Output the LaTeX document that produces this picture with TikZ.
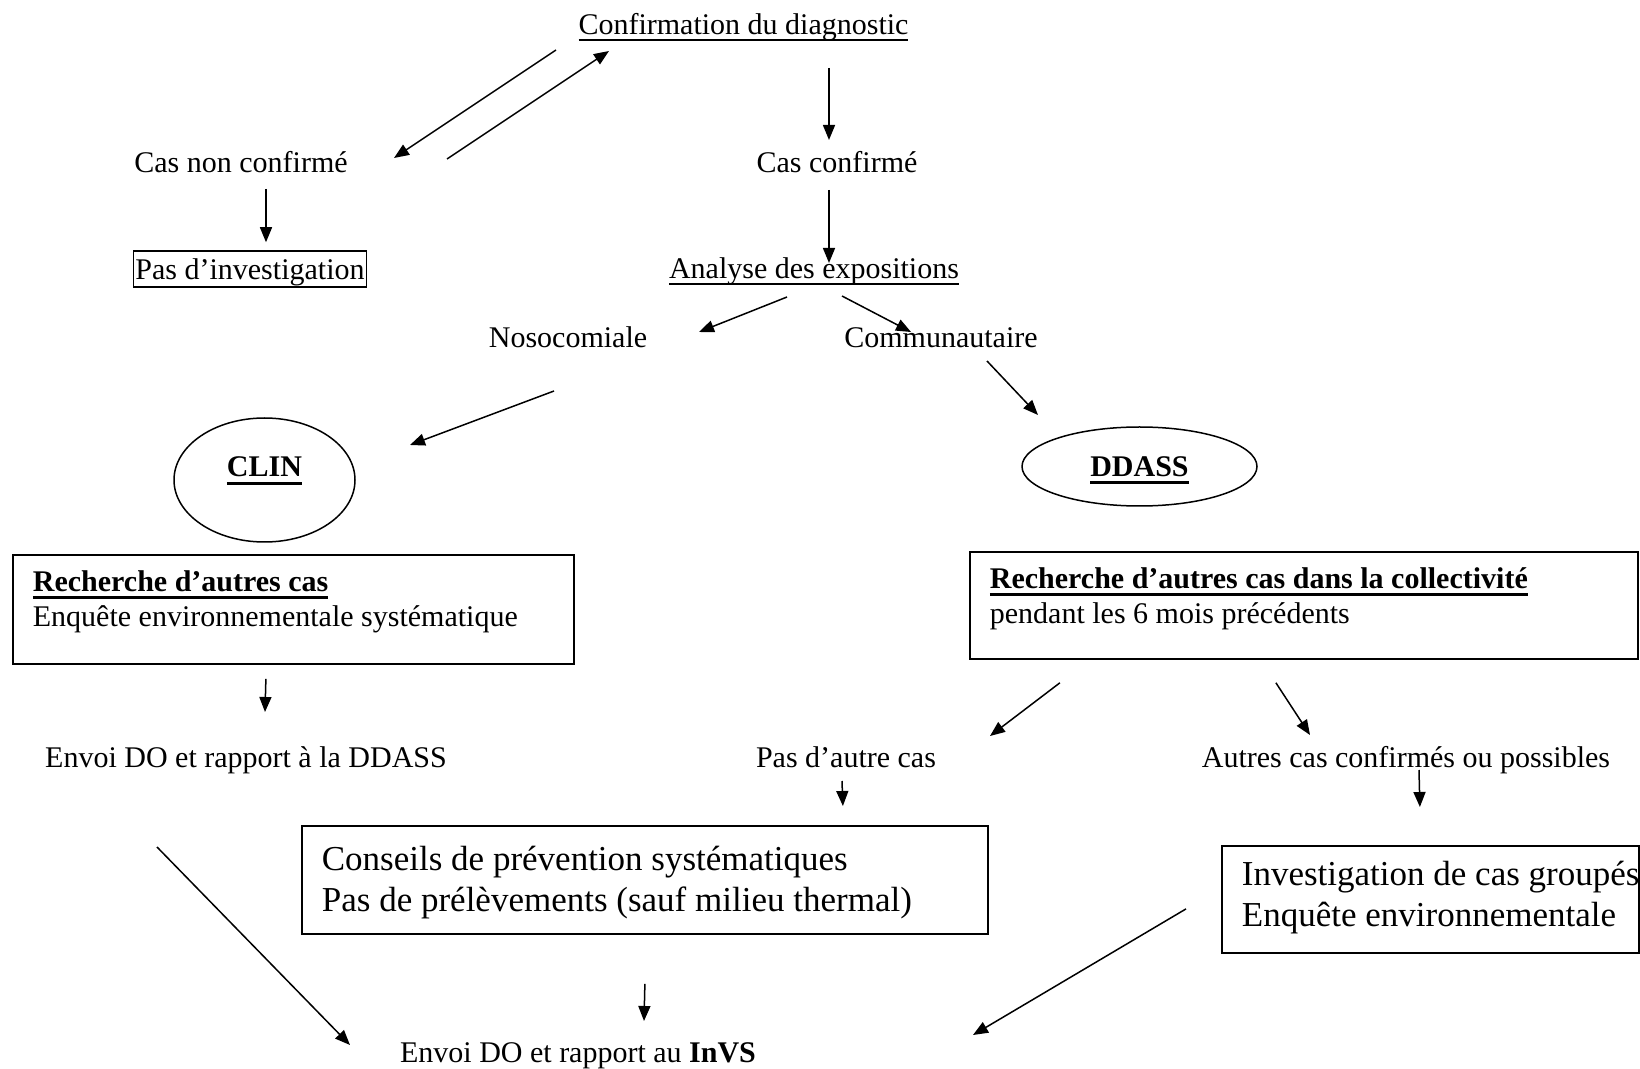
\documentclass[tikz,border=0pt]{standalone}
\usepackage{fontspec}
\setmainfont{Liberation Serif}
\usetikzlibrary{arrows.meta,shapes.geometric}

\newcommand\souligne[1]{\leavevmode\setbox0\hbox{#1}\rlap{\rule[-2.8pt]{\wd0}{0.6pt}}\box0}
\newcommand\soulignegras[1]{\leavevmode\setbox0\hbox{\bfseries #1}\rlap{\rule[-4pt]{\wd0}{1.5pt}}\box0}

\begin{document}
\begin{tikzpicture}[x=0.5pt,y=-0.5pt,
   txt/.style={anchor=base,inner sep=0pt,font=\fontsize{15}{17.5}\selectfont},
   cadre/.style={draw,line width=0.9pt,anchor=north west,inner xsep=10pt,inner ysep=#1,font=\fontsize{15}{17.5}\selectfont},
   cadre/.default=8pt,
   grand/.style={font=\fontsize{17.5}{20.5}\selectfont},
   bulle/.style={draw,ellipse,line width=0.75pt,inner sep=0pt,font=\fontsize{15}{17.5}\selectfont},
   fleche/.style={-{Triangle[length=7.5pt,width=6pt]},line width=0.75pt}]
\useasboundingbox (0,0) rectangle (1640,1069);

% haut
\node[txt] (conf) at (743.5,35) {\souligne{Confirmation du diagnostic}};
\node[txt] (nonconf) at (241,173) {Cas non confirmé};
\node[txt] (casconf) at (837,173) {Cas confirmé};
\node[txt,draw,line width=0.75pt,inner xsep=1pt,inner ysep=0.5pt,text height=14pt,text depth=3pt] (pasinv) at (250,280) {Pas d’investigation};
\node[txt] (analyse) at (814,279) {\souligne{Analyse des expositions}};
\node[txt] (noso) at (568,348) {Nosocomiale};
\node[txt] (commu) at (941,348) {Communautaire};

% CLIN / DDASS
\node[bulle,minimum width=90.5pt,minimum height=62pt,text height=8pt,text depth=11pt] (clin) at (264.5,480) {\soulignegras{CLIN}};
\node[bulle,minimum width=117.5pt,minimum height=39.5pt,text height=10pt,text depth=0pt] (ddass) at (1139.5,466.5) {\soulignegras{DDASS}};
\node[cadre=7.8pt] (clinbox) at (12,554) {\parbox[c][38.9pt][t]{260.5pt}{\soulignegras{Recherche d’autres cas}\\Enquête environnementale systématique}};
\node[cadre=7.8pt] (ddassbox) at (969,551) {\parbox[c][37.9pt][t]{314pt}{\soulignegras{Recherche d’autres cas dans la collectivité}\\pendant les 6 mois précédents}};

% bas
\node[txt] (envoiddass) at (246,767) {Envoi DO et rapport à la DDASS};
\node[txt] (pasautre) at (846,767) {Pas d’autre cas};
\node[txt] (autres) at (1406,767) {Autres cas confirmés ou possibles};
\node[cadre=10pt,grand] (conseils) at (301,825) {\parbox[c][34pt][t]{323pt}{Conseils de prévention systématiques\\Pas de prélèvements (sauf milieu thermal)}};
\node[cadre=7.5pt,grand] (invest) at (1221,845) {\parbox[c][38.5pt][t]{188.5pt}{\mbox{Investigation de cas groupés}\\Enquête environnementale}};
\node[txt] (envoiinvs) at (578,1062) {Envoi DO et rapport au \textbf{InVS}};

% fleches
\draw[fleche] ([shift={(-187.5,15)}]conf.base) -- ([shift={(153,-15)}]nonconf.base);
\draw[fleche] ([shift={(206,-14)}]nonconf.base) -- ([shift={(-134.5,16)}]conf.base);
\draw[fleche] ([shift={(85.5,33)}]conf.base) -- ([shift={(-8,-33)}]casconf.base);
\draw[fleche] ([shift={(25,16)}]nonconf.base) -- ([shift={(16,-8)}]pasinv.north);
\draw[fleche] ([shift={(-8,17)}]casconf.base) -- ([shift={(15,-16)}]analyse.base);
\draw[fleche] ([shift={(-27,18)}]analyse.base) -- ([shift={(131,-16)}]noso.base);
\draw[fleche] ([shift={(28,17)}]analyse.base) -- ([shift={(-30,-16)}]commu.base);
\draw[fleche] ([shift={(-14,43)}]noso.base) -- ([shift={(145.5,-35)}]clin.center);
\draw[fleche] ([shift={(46,13)}]commu.base) -- ([shift={(-101.5,-51.5)}]ddass.center);
\draw[fleche] ([shift={(-27.5,14)}]clinbox.south) -- ([shift={(19,-55)}]envoiddass.base);
\draw[fleche] ([shift={(-244,23)}]ddassbox.south) -- ([shift={(144,-31)}]pasautre.base);
\draw[fleche] ([shift={(-28,23)}]ddassbox.south) -- ([shift={(-96,-32)}]autres.base);
\draw[fleche] ([shift={(-4,14)}]pasautre.base) -- ([shift={(198,-19)}]conseils.north);
\draw[fleche] ([shift={(13,3)}]autres.base) -- ([shift={(-10.5,-38)}]invest.north);
\draw[fleche] ([shift={(-89,80)}]envoiddass.base) -- ([shift={(-228,-17)}]envoiinvs.base);
\draw[fleche] ([shift={(0,49)}]conseils.south) -- ([shift={(66,-41)}]envoiinvs.base);
\draw[fleche] ([shift={(-35,9.5)}]invest.west) -- ([shift={(395,-27)}]envoiinvs.base);
\end{tikzpicture}
\end{document}
